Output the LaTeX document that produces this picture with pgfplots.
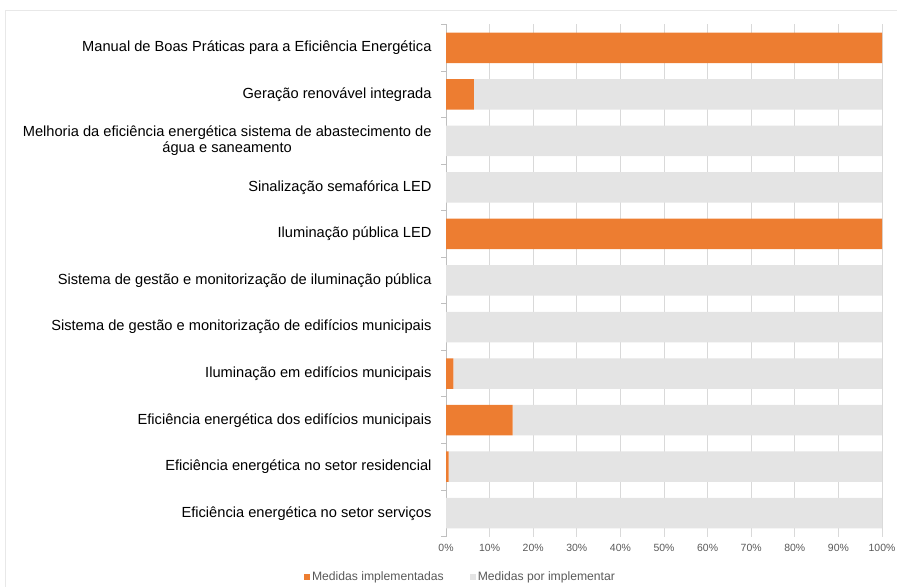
\documentclass[border=0pt]{standalone}
\usepackage{pgfplots}
\pgfplotsset{compat=1.18}
\usepackage{fontspec}
\setmainfont{Liberation Sans}
\definecolor{orangebar}{HTML}{ED7D31}
\definecolor{graybar}{HTML}{E4E4E4}
\definecolor{gridc}{HTML}{D9D9D9}
\definecolor{axisc}{HTML}{BFBFBF}
\definecolor{txtgray}{HTML}{595959}
\definecolor{framec}{HTML}{E8E8E8}

\pgfplotstableread{
idx impl por
0 100 0
1 6.4 93.6
2 0 100
3 0 100
4 100 0
5 0 100
6 0 100
7 1.7 98.3
8 15.3 84.7
9 0.6 99.4
10 0 100
}\datatable

\begin{document}
\begin{tikzpicture}[x=1bp,y=1bp]
\draw[framec, line width=1.2bp] (5.5,-20) rectangle (920,576.5);
\begin{axis}[
  at={(446bp,50.5bp)}, anchor=south west,
  scale only axis, width=436bp, height=512bp,
  xbar stacked, bar width=30.5bp,
  xmin=0, xmax=100, ymin=-0.5, ymax=10.5, y dir=reverse,
  /pgf/number format/assume math mode=true,
  axis lines*=left,
  axis line style={-},
  x axis line style={draw=none},
  y axis line style={draw=axisc, line width=0.8bp},
  xtick={0,10,...,100},
  xticklabel={\pgfmathprintnumber{\tick}\%},
  xmajorgrids, major grid style={draw=gridc, line width=0.8bp},
  major tick length=0pt,
  xticklabel style={font=\fontsize{10.5}{12}\selectfont, text=txtgray, yshift=-4bp},
  ytick={0,...,10},
  yticklabels={
    Manual de Boas Práticas para a Eficiência Energética,
    Geração renovável integrada,
    {Melhoria da eficiência energética sistema de abastecimento de\\água e saneamento},
    Sinalização semafórica LED,
    Iluminação pública LED,
    Sistema de gestão e monitorização de iluminação pública,
    Sistema de gestão e monitorização de edifícios municipais,
    Iluminação em edifícios municipais,
    Eficiência energética dos edifícios municipais,
    Eficiência energética no setor residencial,
    Eficiência energética no setor serviços},
  yticklabel style={font=\fontsize{14.7}{16.5}\selectfont, align=center, text=black, xshift=-11bp},
  extra y ticks={-0.5,0.5,...,10.5},
  extra y tick labels={},
  extra y tick style={major tick length=5bp, tick align=outside, major tick style={draw=axisc, line width=0.8bp}, grid=none},
  tick style={draw=axisc},
  legend columns=2,
  legend style={at={(axis description cs:-0.326,-0.079)}, anchor=west, draw=none, fill=none,
    font=\fontsize{12.2}{14}\selectfont, text=txtgray, inner sep=0pt,
    /tikz/every even column/.append style={column sep=24bp}},
  legend image code/.code={\fill[#1] (0bp,-3bp) rectangle (6bp,3bp);},
]
\addplot[fill=orangebar, draw=none] table[x=impl, y=idx] {\datatable};
\addplot[fill=graybar, draw=none] table[x=por, y=idx] {\datatable};
\legend{Medidas implementadas, Medidas por implementar}
\end{axis}
\pgfresetboundingbox
\path[use as bounding box] (0,0) rectangle (897,587);
\end{tikzpicture}
\end{document}
